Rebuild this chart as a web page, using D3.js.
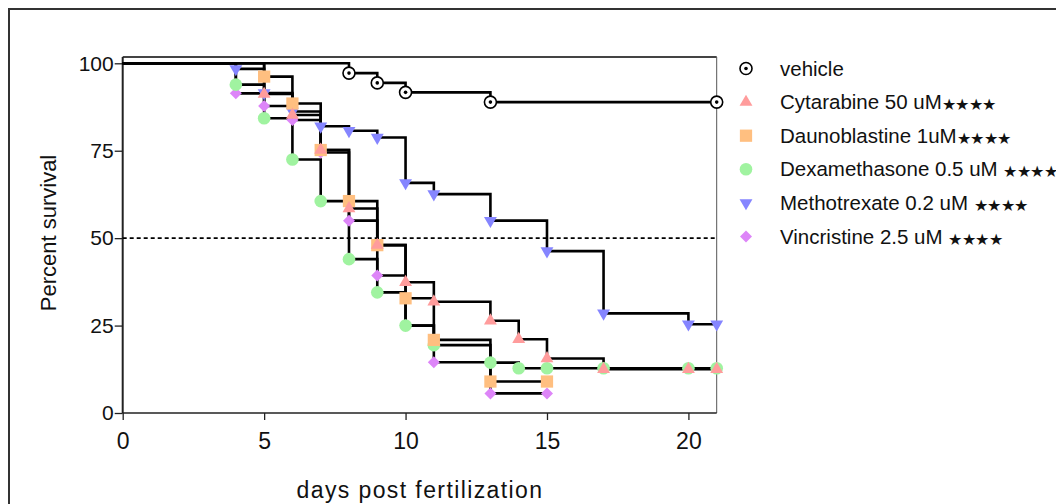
<!DOCTYPE html>
<html>
<head>
<meta charset="utf-8">
<style>
  body { margin: 0; background: #fff; }
  svg { display: block; font-family: 'Liberation Sans', Arial, sans-serif; }
</style>
</head>
<body>
<svg width="1056" height="504"></svg>

<script src="https://d3js.org/d3.v7.min.js"></script>
<script>

// survival curves (day, percent survival)
const vehicleDays = [0, 8, 9, 10, 13, 21]
const vehicleSurv = [100, 97.2, 94.4, 91.7, 88.9, 88.9]

const cytarabineDays = [0, 5, 6, 7, 8, 9, 10, 11, 13, 14, 15, 17, 20, 21]
const cytarabineSurv = [100, 91.2, 85.2, 75.2, 58.5, 48, 37.4, 31.8, 26.4, 21.1, 15.6, 12.5, 12.5, 12.5]

const daunoDays = [0, 5, 6, 7, 8, 9, 10, 11, 13, 15]
const daunoSurv = [100, 96.2, 88.5, 75.2, 60.6, 48, 32.8, 20.9, 9, 9]

const dexaDays = [0, 4, 5, 6, 7, 8, 9, 10, 11, 13, 14, 15, 17, 20, 21]
const dexaSurv = [100, 93.9, 84.3, 72.5, 60.6, 44, 34.5, 25, 19.4, 14.4, 12.8, 12.8, 12.8, 12.8, 12.8]

const methoDays = [0, 4, 5, 6, 7, 8, 9, 10, 11, 13, 15, 17, 20, 21]
const methoSurv = [100, 98.4, 91.5, 86.2, 82, 80.7, 78.8, 65.8, 62.6, 55, 46.3, 28.5, 25.4, 25.4]

const vincDays = [0, 4, 5, 6, 7, 8, 9, 10, 11, 13, 15]
const vincSurv = [100, 91.4, 87.8, 83.8, 74.5, 55, 39.3, 25, 14.5, 5.6, 5.6]

const seriesNames = ["vehicle", "Cytarabine 50 uM", "Daunoblastine 1uM", "Dexamethasone 0.5 uM ",
    "Methotrexate 0.2 uM ", "Vincristine 2.5 uM "]
const stars = ["", "****", "****", "****", "****", "****"]

const xTicks = [0, 5, 10, 15, 20]
const yTicks = [0, 25, 50, 75, 100]

let svg = d3.select("svg")

// outer frame of the picture
svg.append("rect")
    .attr("x", 9).attr("y", 9)
    .attr("width", 1200).attr("height", 600)
    .style("fill", "none")
    .style("stroke", "#333")
    .style("stroke-width", 2)

let x = d3.scaleLinear().domain([0, 21]).range([122.7, 716.7])
let y = d3.scaleLinear().domain([0, 100]).range([413, 63.3])

let series = [
    { days: vehicleDays, surv: vehicleSurv, color: "#fff", shape: "vehicle" },
    { days: cytarabineDays, surv: cytarabineSurv, color: "#ff9c9c", shape: "up" },
    { days: daunoDays, surv: daunoSurv, color: "#ffbf80", shape: "square" },
    { days: dexaDays, surv: dexaSurv, color: "#a0f3a0", shape: "circle" },
    { days: methoDays, surv: methoSurv, color: "#8585ff", shape: "down" },
    { days: vincDays, surv: vincSurv, color: "#dd85f8", shape: "diamond" }
]
series.forEach((s, i) => {
    s.name = seriesNames[i]
    s.stars = stars[i]
    s.points = s.days.map((d, j) => [d, s.surv[j]])
})

// plot frame
svg.append("line")
    .attr("x1", x(0)).attr("x2", x(21))
    .attr("y1", 57).attr("y2", 57)
    .style("stroke", "#444").style("stroke-width", 2)
svg.append("line")
    .attr("x1", x(21)).attr("x2", x(21))
    .attr("y1", 57).attr("y2", y(0))
    .style("stroke", "#555").style("stroke-width", 1)

// axes
let yAxis = svg.append("g")
    .attr("transform", `translate(${x(0)},0)`)
    .call(d3.axisLeft(y).tickValues(yTicks).tickSize(8).tickPadding(1))
yAxis.select(".domain").attr("d", `M0,57V${y(0)}`).style("stroke", "#222").style("stroke-width", 2)

let xAxis = svg.append("g")
    .attr("transform", `translate(0,${y(0)})`)
    .call(d3.axisBottom(x).tickValues(xTicks).tickSize(7).tickPadding(13))
xAxis.select(".domain").attr("d", `M${x(0)},0H${x(21)}`).style("stroke", "#222").style("stroke-width", 1.5)

svg.selectAll(".tick line").style("stroke", "#222").style("stroke-width", 1.3)
yAxis.selectAll("text").style("font-size", "21px").style("fill", "#111").style("font-family", "'Liberation Sans', Arial")
xAxis.selectAll("text").style("font-size", "23px").style("fill", "#111").style("font-family", "'Liberation Sans', Arial")

// axis titles
svg.append("text")
    .attr("transform", "translate(56,233) rotate(-90)")
    .attr("text-anchor", "middle")
    .style("font-size", "22px")
    .style("fill", "#111")
    .text("Percent survival")

svg.append("text")
    .attr("x", 420).attr("y", 498)
    .attr("text-anchor", "middle")
    .style("font-size", "23px")
    .style("letter-spacing", "1.4px")
    .style("fill", "#111")
    .text("days post fertilization")

// 50% reference line
svg.append("line")
    .attr("x1", x(0)).attr("x2", x(21))
    .attr("y1", y(50)).attr("y2", y(50))
    .style("stroke", "#000")
    .style("stroke-width", 1.6)
    .style("stroke-dasharray", "4,3")

// step curves
let step = d3.line()
    .x(d => x(d[0]))
    .y(d => y(d[1]))
    .curve(d3.curveStepAfter)

svg.selectAll(".curve")
    .data(series)
    .join("path")
    .attr("class", "curve")
    .attr("d", d => step(d.points))
    .style("fill", "none")
    .style("stroke", "#000")
    .style("stroke-width", 2.6)

// markers
function drawMarker(g, shape, color) {
    if (shape == "vehicle") {
        g.append("circle").attr("r", 6)
            .style("fill", "#fff").style("stroke", "#000").style("stroke-width", 1.6)
        g.append("circle").attr("r", 1.8).style("fill", "#000")
    } else if (shape == "circle") {
        g.append("circle").attr("r", 6.3).style("fill", color)
    } else if (shape == "square") {
        g.append("path").attr("d", d3.symbol(d3.symbolSquare, 150)()).style("fill", color)
    } else if (shape == "up") {
        g.append("path").attr("d", d3.symbol(d3.symbolTriangle, 72)()).style("fill", color)
    } else if (shape == "down") {
        g.append("path").attr("d", d3.symbol(d3.symbolTriangle, 72)())
            .attr("transform", "rotate(180)").style("fill", color)
    } else if (shape == "diamond") {
        g.append("path").attr("d", d3.symbol(d3.symbolSquare, 72)())
            .attr("transform", "rotate(45)").style("fill", color)
    }
}

// later data sets sit underneath earlier ones
series.slice().reverse().forEach(s => {
    s.points.slice(1).forEach(p => {
        let g = svg.append("g").attr("transform", `translate(${x(p[0])},${y(p[1])})`)
        drawMarker(g, s.shape, s.color)
    })
})

// legend
let legend = svg.append("g").attr("transform", "translate(746,68.5)")
series.forEach((s, i) => {
    let row = legend.append("g").attr("transform", `translate(0,${i * 33.6})`)
    drawMarker(row, s.shape, s.color)
    let t = row.append("text")
        .attr("x", 34).attr("y", 7)
        .style("font-size", "20.5px")
        .style("fill", "#111")
        .text(s.name)
    t.append("tspan")
        .attr("dy", 1)
        .style("font-size", "16px")
        .style("letter-spacing", "-0.5px")
        .text(s.stars.replace(/\*/g, "\u2605"))
})

</script>
</body>
</html>
